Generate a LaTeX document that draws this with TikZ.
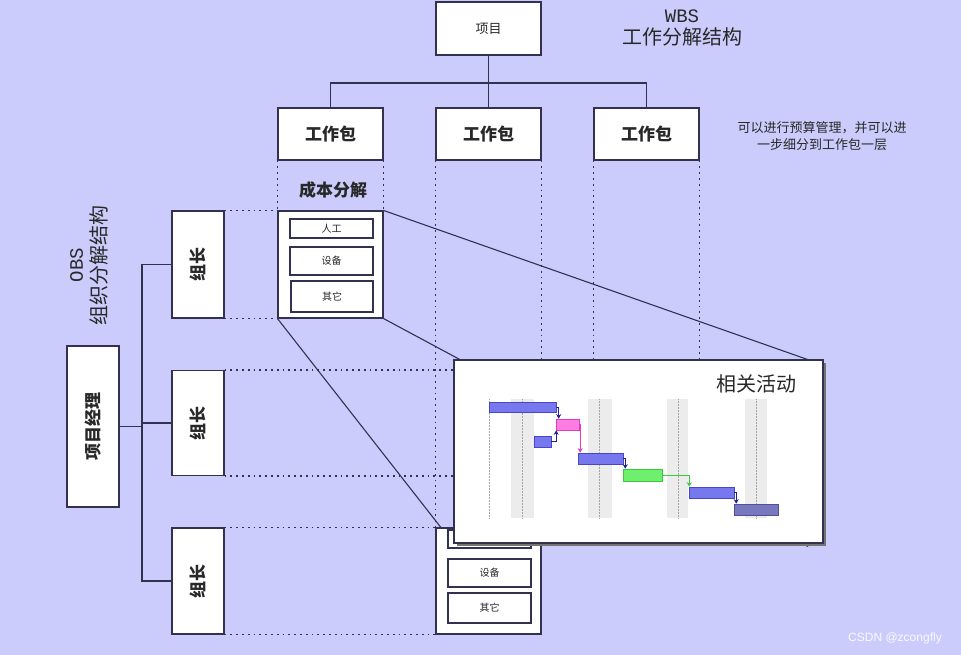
\documentclass[tikz,border=0pt]{standalone}
\usepackage{fontspec}
\usepackage{graphicx}
\newfontfamily\cjk{Noto Sans CJK SC}
\newfontfamily\monof{Liberation Mono}
\newfontfamily\sansf{Liberation Sans}
\usetikzlibrary{arrows.meta,shadows}
\definecolor{bgc}{RGB}{204,204,252}
\definecolor{edge}{RGB}{50,50,80}
\definecolor{txt}{RGB}{40,40,40}
\definecolor{bblue}{RGB}{119,119,238}
\definecolor{bblueD}{RGB}{70,70,200}
\definecolor{bpink}{RGB}{255,125,225}
\definecolor{bpinkD}{RGB}{220,60,190}
\definecolor{bgreen}{RGB}{110,240,110}
\definecolor{bgreenD}{RGB}{60,200,60}
\definecolor{bslate}{RGB}{120,120,190}
\definecolor{bslateD}{RGB}{80,80,150}
\definecolor{depblue}{RGB}{30,30,150}
\definecolor{bandc}{RGB}{236,236,236}
\pgfdeclarelayer{bgl}
\pgfdeclarelayer{lines}
\pgfsetlayers{bgl,lines,main}
\tikzset{
  box/.style={draw=edge, fill=white, line width=1.1pt, inner sep=0pt, text=txt},
  dots/.style={draw=edge, line width=1.3pt, dash pattern=on 1.8pt off 4pt},
  link/.style={draw=edge, line width=1.1pt},
  bar/.style={inner sep=0pt, line width=0.6pt},
  dep/.style={line width=0.8pt, -{Stealth[length=4.5pt,width=5pt]}},
  bigcn/.style={font=\cjk\bfseries\fontsize{17}{17}\selectfont},
  smallcn/.style={font=\cjk\fontsize{10}{10}\selectfont},
}
\begin{document}
\begin{tikzpicture}[x=1pt,y=-1pt]
\useasboundingbox (0,0) rectangle (961,655);
\begin{pgfonlayer}{bgl}
\fill[bgc] (0,0) rectangle (961,655);
\end{pgfonlayer}

% WBS tree
\node[box, minimum width=105pt, minimum height=53pt, font=\cjk\fontsize{13}{13}\selectfont] (proj) at (488.5,28.5) {项目};
\node[box, bigcn, minimum width=105pt, minimum height=52pt] (wp1) at (330.5,134) {工作包};
\node[box, bigcn, minimum width=105pt, minimum height=52pt] (wp2) at (488.5,134) {工作包};
\node[box, bigcn, minimum width=105pt, minimum height=52pt] (wp3) at (646.5,134) {工作包};
\coordinate (bar) at (488.5,83);

\node[align=center, text=txt] (wbs) at (682,28) {{\monof\fontsize{19}{19}\selectfont WBS}\\[4pt]{\cjk\fontsize{20}{20}\selectfont 工作分解结构}};
\node[align=center, text=txt, font=\cjk\fontsize{13}{17}\selectfont] (note) at (822,136) {可以进行预算管理，并可以进\\一步细分到工作包一层};

% cost breakdown 1
\node[bigcn, text=txt] (costlbl) at (333,190) {成本分解};
\node[box, minimum width=105pt, minimum height=107pt] (cost1) at (330.5,264.5) {};
\node[box, smallcn, minimum width=83pt, minimum height=19pt] (c1a) at (331.5,228.5) {人工};
\node[box, smallcn, minimum width=83pt, minimum height=28pt] (c1b) at (331.5,261) {设备};
\node[box, smallcn, minimum width=82pt, minimum height=31pt] (c1c) at (332,296.5) {其它};

% OBS
\node[text=txt, align=center] (obs) at (90,265) {\rotatebox{90}{\begin{tabular}{@{}c@{}}{\monof\fontsize{19}{19}\selectfont OBS}\\[3pt]{\cjk\fontsize{20}{20}\selectfont 组织分解结构}\end{tabular}}};
\node[box, minimum width=52pt, minimum height=161pt] (pm) at (93,426.5) {\rotatebox{90}{\cjk\bfseries\fontsize{17}{17}\selectfont 项目经理}};
\node[box, minimum width=52pt, minimum height=107pt] (gl1) at (198,264.5) {\rotatebox{90}{\cjk\bfseries\fontsize{17}{17}\selectfont 组长}};
\node[box, minimum width=52pt, minimum height=105pt] (gl2) at (198,423) {\rotatebox{90}{\cjk\bfseries\fontsize{17}{17}\selectfont 组长}};
\node[box, minimum width=52pt, minimum height=106pt] (gl3) at (198,581) {\rotatebox{90}{\cjk\bfseries\fontsize{17}{17}\selectfont 组长}};
\coordinate (obar) at (142,426.5);

% cost breakdown 2
\node[box, minimum width=105pt, minimum height=106pt] (cost2) at (488.5,581) {};
\node[box, smallcn, minimum width=83pt, minimum height=18pt] (c2a) at (489.5,539) {人工};
\node[box, smallcn, minimum width=83pt, minimum height=28pt] (c2b) at (489.5,573) {设备};
\node[box, smallcn, minimum width=83pt, minimum height=30pt] (c2c) at (489.5,608) {其它};

% Gantt box
\node[box, drop shadow={shadow xshift=2.5pt, shadow yshift=-2.5pt, fill=black!55, opacity=1}, minimum width=369pt, minimum height=183pt] (gantt) at (638.5,451.5) {};
\coordinate (zA) at (809,360);
\coordinate (zB) at (808,546.5);

% lines layer
\begin{pgfonlayer}{lines}
\draw[link] (proj) -- (wp2);
\draw[link] (wp1.north) |- (bar) -| (wp3.north);
\draw[link] (gl1.west) -| (obar) |- (gl3.west);
\draw[link] (gl2.west) -- (gl2.west -| obar);
\draw[link] (pm.east) -- (obar);
% dotted verticals
\draw[dots] (wp1.south west) -- (cost1.north west);
\draw[dots] (wp1.south east) -- (cost1.north east);
\draw[dots] (wp2.south west) -- (cost2.north west);
\draw[dots] (wp2.south east) -- (cost2.north east);
\draw[dots] (wp3.south west) -- (wp3.south west |- gantt.north);
\draw[dots] (wp3.south east) -- (wp3.south east |- gantt.north);
% dotted horizontals
\draw[dots] (gl1.north east) -- (cost1.north west);
\draw[dots] (gl1.south east) -- (cost1.south west);
\draw[dots] (gl2.north east) -- (gl2.north east -| gantt.west);
\draw[dots] (gl2.south east) -- (gl2.south east -| gantt.west);
\draw[dots] (gl3.north east) -- (cost2.north west);
\draw[dots] (gl3.south east) -- (cost2.south west);
% zoom lines
\draw[link] (cost1.north east) -- (zA);
\draw[link] (cost1.south east) -- (zB);
\draw[link] (cost1.south west) -- (gantt.south west);
\end{pgfonlayer}

% Gantt content
\node[text=txt, font=\cjk\fontsize{20}{20}\selectfont] (gtitle) at (756,384) {相关活动};
\foreach \a/\b/\c in {511/534/522, 588/612/599, 667/688/678, 745/767/756}{
  \fill[bandc] (\a,399) rectangle (\b,518);
  \draw[gray!70, line width=0.5pt, densely dotted] (\c,399) -- (\c,518);
}
\draw[gray!70, line width=0.5pt, densely dotted] (489,399) -- (489,518);

\node[bar, draw=bblueD, fill=bblue, minimum width=67pt, minimum height=10pt] (b1) at (522.5,407) {};
\node[bar, draw=bpinkD, fill=bpink, minimum width=23pt, minimum height=11pt] (b2) at (567.5,424.5) {};
\node[bar, draw=bblueD, fill=bblue, minimum width=17pt, minimum height=11pt] (b3) at (542.5,441.5) {};
\node[bar, draw=bblueD, fill=bblue, minimum width=45pt, minimum height=11pt] (b4) at (600.5,458.5) {};
\node[bar, draw=bgreenD, fill=bgreen, minimum width=39pt, minimum height=12pt] (b5) at (642.5,475) {};
\node[bar, draw=bblueD, fill=bblue, minimum width=45pt, minimum height=11pt] (b6) at (711.5,492.5) {};
\node[bar, draw=bslateD, fill=bslate, minimum width=44pt, minimum height=11pt] (b7) at (756,509.5) {};

\draw[dep, depblue] (b1.east) -| ([xshift=3pt]b2.north west);
\draw[dep, depblue] (b3.east) -| ([xshift=0.5pt]b2.south west);
\draw[dep, bpinkD] (b2.east) -| ([xshift=2.5pt]b4.north west);
\draw[dep, depblue] (b4.east) -| ([xshift=2.5pt]b5.north west);
\draw[dep, bgreenD] (b5.east) -| ([xshift=0.5pt]b6.north west);
\draw[dep, depblue] (b6.east) -| ([xshift=2.5pt]b7.north west);

% watermark
\node[text=white!88!bgc, font=\sansf\fontsize{12}{12}\selectfont] (wm) at (895,638) {CSDN @zcongfly};
\end{tikzpicture}
\end{document}
